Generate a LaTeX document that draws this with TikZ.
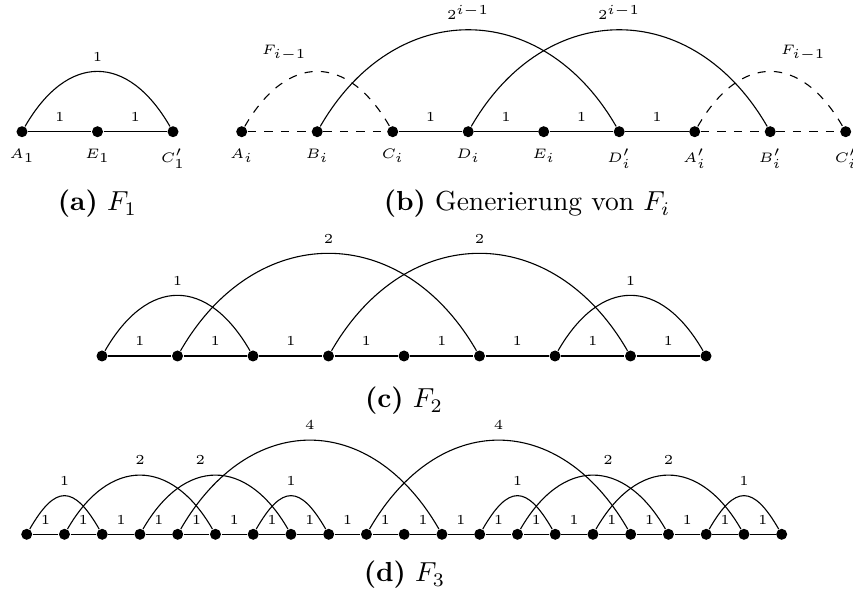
\documentclass[tikz,border=0pt]{standalone}
\usepackage{amsmath,amssymb}
\usepackage{tikz}

\begin{document}
\begin{tikzpicture}[
    x=0.3636pt, y=0.3636pt,
    vertex/.style={circle, fill, inner sep=0pt, minimum size=4pt},
    weight/.style={font=\tiny, above=2pt, inner sep=1.5pt},
    hop/.style={out=60, in=120, looseness=#1},
    every label/.style={font=\tiny, label distance=0.5pt}
]
\useasboundingbox (0,0) rectangle (853,589);

\node[vertex, label=below:$A_1$] (A1) at (22,457.3) {};
\node[vertex, label=below:$E_1$] (E1) at (97.5,457.3) {};
\node[vertex, label=below:$C'_1$] (C1) at (173,457.3) {};
\draw (A1) -- node[weight]{1} (E1) -- node[weight]{1} (C1);
\draw (A1) to[hop=1.5] node[weight]{1} (C1);
\node (capa) at (97.5,385) {\textbf{(a)} $F_1$};

\node[vertex, label=below:$A_i$] (Ai) at (241.7,457.3) {};
\node[vertex, label=below:$B_i$] (Bi) at (317.2,457.3) {};
\node[vertex, label=below:$C_i$] (Ci) at (392.7,457.3) {};
\node[vertex, label=below:$D_i$] (Di) at (468.2,457.3) {};
\node[vertex, label=below:$E_i$] (Ei) at (543.7,457.3) {};
\node[vertex, label=below:$D'_i$] (Dpi) at (619.2,457.3) {};
\node[vertex, label=below:$A'_i$] (Api) at (694.7,457.3) {};
\node[vertex, label=below:$B'_i$] (Bpi) at (770.2,457.3) {};
\node[vertex, label=below:$C'_i$] (Cpi) at (845.7,457.3) {};
\draw[dashed] (Ai) -- (Bi) -- (Ci);
\draw (Ci) -- node[weight]{1} (Di) -- node[weight]{1} (Ei) -- node[weight]{1} (Dpi) -- node[weight]{1} (Api);
\draw[dashed] (Api) -- (Bpi) -- (Cpi);
\draw[dashed] (Ai) to[hop=1.5] node[weight, xshift=-12pt]{$F_{i-1}$} (Ci);
\draw[dashed] (Api) to[hop=1.5] node[weight, xshift=12pt]{$F_{i-1}$} (Cpi);
\draw (Bi) to[hop=1.29] node[weight]{$2^{i-1}$} (Dpi);
\draw (Di) to[hop=1.29] node[weight]{$2^{i-1}$} (Bpi);
\node (capb) at (527,385) {\textbf{(b)} Generierung von $F_i$};

\foreach \i in {0,...,8}
    \node[vertex] (two-\i) at ({102+75.5*\i},233) {};
\foreach \i [count=\j] in {0,...,7}
    \draw (two-\i) -- node[weight]{1} (two-\j);
\draw (two-0) to[hop=1.51] node[weight]{1} (two-2);
\draw (two-1) to[hop=1.3] node[weight]{2} (two-5);
\draw (two-3) to[hop=1.3] node[weight]{2} (two-7);
\draw (two-6) to[hop=1.51] node[weight]{1} (two-8);
\node (capc) at (404,188) {\textbf{(c)} $F_2$};

\foreach \i in {0,...,20}
    \node[vertex] (three-\i) at ({26.7+37.75*\i},54.7) {};
\foreach \i [count=\j] in {0,...,19}
    \draw (three-\i) -- node[weight]{1} (three-\j);
\foreach \p/\q in {0/2,6/8,12/14,18/20}
    \draw (three-\p) to[hop=1.9] node[weight]{1} (three-\q);
\foreach \p/\q/\dx in {1/5/0pt,3/7/-5.5pt,13/17/5.5pt,15/19/0pt}
    \draw (three-\p) to[hop=1.47] node[weight, xshift=\dx]{2} (three-\q);
\foreach \p/\q in {4/11,9/16}
    \draw (three-\p) to[hop=1.36] node[weight]{4} (three-\q);
\node (capd) at (404.5,14) {\textbf{(d)} $F_3$};
\end{tikzpicture}
\end{document}
